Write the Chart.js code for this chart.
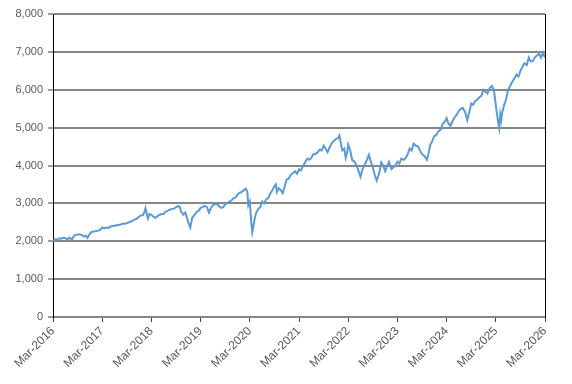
<!DOCTYPE html>
<html>
<head>
<meta charset="utf-8">
<script src="https://cdn.jsdelivr.net/npm/chart.js@4"></script>
<style>
  html, body { margin: 0; padding: 0; background: #fff; }
  #wrap { width: 572px; height: 384px; }
</style>
</head>
<body>
<div id="wrap"><canvas id="indexChart" width="572" height="384"></canvas></div>
<script>
// x positions are years since Mar-2016
const tickLabels = ['Mar-2016', 'Mar-2017', 'Mar-2018', 'Mar-2019', 'Mar-2020', 'Mar-2021',
    'Mar-2022', 'Mar-2023', 'Mar-2024', 'Mar-2025', 'Mar-2026'];

const years = [
    0.00, 0.04, 0.08, 0.13, 0.17, 0.21, 0.25, 0.30, 0.33, 0.36, 0.38, 0.42, 0.46, 0.50, 0.54, 0.58, 0.62, 0.67, 0.70, 0.73, 0.75, 0.79, 0.83, 0.88, 0.92, 0.96,
    1.00, 1.04, 1.08, 1.13, 1.17, 1.21, 1.25, 1.29, 1.33, 1.38, 1.42, 1.46, 1.50, 1.54, 1.58, 1.63, 1.67, 1.71, 1.75, 1.79, 1.83, 1.86, 1.88, 1.91, 1.93, 1.96,
    2.00, 2.04, 2.08, 2.13, 2.17, 2.21, 2.25, 2.29, 2.33, 2.38, 2.42, 2.46, 2.50, 2.55, 2.58, 2.60, 2.63, 2.65, 2.69, 2.72, 2.75, 2.79, 2.83, 2.88, 2.92, 2.96,
    3.00, 3.04, 3.08, 3.13, 3.17, 3.21, 3.25, 3.29, 3.33, 3.38, 3.42, 3.46, 3.50, 3.54, 3.58, 3.63, 3.67, 3.71, 3.75, 3.79, 3.83, 3.88, 3.92, 3.95, 3.97, 4.00, 4.03, 4.05,
    4.08, 4.10, 4.13, 4.17, 4.21, 4.25, 4.29, 4.33, 4.38, 4.42, 4.46, 4.50, 4.53, 4.55, 4.59, 4.63, 4.67, 4.71, 4.75, 4.79, 4.83, 4.88, 4.92, 4.96,
    5.00, 5.04, 5.08, 5.13, 5.17, 5.21, 5.25, 5.29, 5.33, 5.38, 5.42, 5.46, 5.50, 5.54, 5.58, 5.63, 5.67, 5.71, 5.75, 5.79, 5.82, 5.85, 5.88, 5.92, 5.95, 5.98,
    6.00, 6.04, 6.08, 6.13, 6.17, 6.21, 6.25, 6.29, 6.33, 6.38, 6.42, 6.46, 6.50, 6.54, 6.58, 6.63, 6.67, 6.71, 6.75, 6.79, 6.83, 6.88, 6.92, 6.96,
    7.00, 7.04, 7.08, 7.13, 7.17, 7.21, 7.25, 7.29, 7.33, 7.38, 7.42, 7.46, 7.50, 7.55, 7.60, 7.63, 7.67, 7.71, 7.75, 7.79, 7.83, 7.88, 7.92, 7.96,
    8.00, 8.04, 8.08, 8.13, 8.17, 8.21, 8.25, 8.29, 8.33, 8.38, 8.42, 8.46, 8.50, 8.54, 8.58, 8.63, 8.67, 8.71, 8.75, 8.79, 8.83, 8.88, 8.92, 8.96,
    9.00, 9.04, 9.07, 9.09, 9.11, 9.13, 9.17, 9.21, 9.25, 9.29, 9.33, 9.38, 9.42, 9.46, 9.50, 9.54, 9.58, 9.63, 9.67, 9.71, 9.75, 9.79, 9.83, 9.88, 9.92, 9.96, 10.00
];

const values = [
    2000, 2050, 2040, 2080, 2065, 2090, 2080, 2050, 2095, 2070, 2030, 2130, 2170, 2175, 2185, 2170, 2130, 2140, 2090, 2160, 2200, 2250, 2260, 2270, 2280, 2300,
    2365, 2340, 2360, 2350, 2390, 2400, 2410, 2420, 2430, 2440, 2470, 2460, 2475, 2500, 2520, 2550, 2580, 2600, 2650, 2680, 2690, 2780, 2870, 2700, 2600, 2720,
    2700, 2650, 2620, 2670, 2700, 2720, 2720, 2780, 2800, 2840, 2850, 2860, 2900, 2930, 2900, 2780, 2750, 2700, 2760, 2630, 2500, 2360, 2620, 2700, 2780, 2800,
    2880, 2900, 2940, 2900, 2760, 2880, 2950, 2980, 2990, 2920, 2880, 2900, 2980, 3000, 3040, 3080, 3140, 3150, 3230, 3280, 3300, 3350, 3390, 3300, 2950, 3050, 2500, 2240,
    2450, 2600, 2750, 2850, 2900, 3050, 3000, 3100, 3150, 3270, 3350, 3450, 3500, 3300, 3400, 3350, 3270, 3450, 3630, 3650, 3750, 3800, 3850, 3780,
    3900, 3870, 3980, 4100, 4180, 4150, 4200, 4300, 4300, 4350, 4420, 4400, 4520, 4450, 4350, 4500, 4600, 4650, 4700, 4720, 4790, 4600, 4400, 4450, 4200, 4350,
    4550, 4400, 4150, 4100, 4000, 3850, 3700, 3900, 4000, 4150, 4280, 4100, 3950, 3750, 3600, 3800, 4080, 4000, 3850, 3980, 4100, 3900, 3950, 4000,
    4100, 4050, 4180, 4150, 4200, 4300, 4450, 4400, 4580, 4520, 4500, 4400, 4300, 4250, 4150, 4300, 4550, 4650, 4780, 4800, 4900, 4950, 5100, 5150,
    5250, 5100, 5050, 5200, 5280, 5350, 5450, 5500, 5520, 5400, 5200, 5400, 5640, 5600, 5700, 5750, 5800, 5850, 6000, 5950, 5900, 6050, 6100, 6000,
    5600, 5200, 4990, 5350, 5200, 5400, 5600, 5750, 6000, 6100, 6200, 6300, 6400, 6350, 6500, 6600, 6700, 6650, 6850, 6750, 6750, 6850, 6900, 6950, 6850, 6980, 6850
];

const yMax = 8000;
const yStep = 1000;

const points = years.map((x, i) => ({ x: x, y: values[i] }));

new Chart(document.getElementById('indexChart'), {
    type: 'line',
    data: {
        datasets: [{
            data: points,
            borderColor: '#5B9BD5',
            borderWidth: 2,
            pointRadius: 0,
            tension: 0,
            fill: false
        }]
    },
    options: {
        responsive: false,
        animation: false,
        layout: { padding: { top: 14, right: 27, left: 0, bottom: 0 } },
        plugins: {
            legend: { display: false },
            tooltip: { enabled: false }
        },
        scales: {
            x: {
                type: 'linear',
                min: 0,
                max: tickLabels.length - 1,
                afterFit: (s) => { s.height = 67; },
                afterBuildTicks: (s) => { s.ticks = tickLabels.map((_, i) => ({ value: i })); },
                ticks: {
                    stepSize: 1,
                    autoSkip: false,
                    maxRotation: 45,
                    minRotation: 45,
                    color: '#595959',
                    font: { family: 'Liberation Sans', size: 12 },
                    padding: 2,
                    callback: (v) => tickLabels[v]
                },
                grid: { drawOnChartArea: false, drawTicks: true, tickLength: 5, color: '#404040', lineWidth: 1 },
                border: { color: '#868686', width: 2 }
            },
            y: {
                min: 0,
                max: yMax,
                afterFit: (s) => { s.width = 53; },
                ticks: {
                    stepSize: yStep,
                    color: '#595959',
                    font: { family: 'Liberation Sans', size: 11 },
                    padding: 5,
                    callback: (v) => v.toLocaleString('en-US')
                },
                grid: { color: '#868686', lineWidth: 2, tickLength: 5, tickColor: '#404040', tickWidth: 1 },
                border: { color: '#000000', width: 1 }
            },
            yRight: {
                position: 'right',
                min: 0,
                max: yMax,
                afterFit: (s) => { s.width = 0; },
                ticks: { display: false },
                grid: { display: false },
                border: { color: '#000000', width: 1 }
            }
        }
    }
});
</script>
</body>
</html>
